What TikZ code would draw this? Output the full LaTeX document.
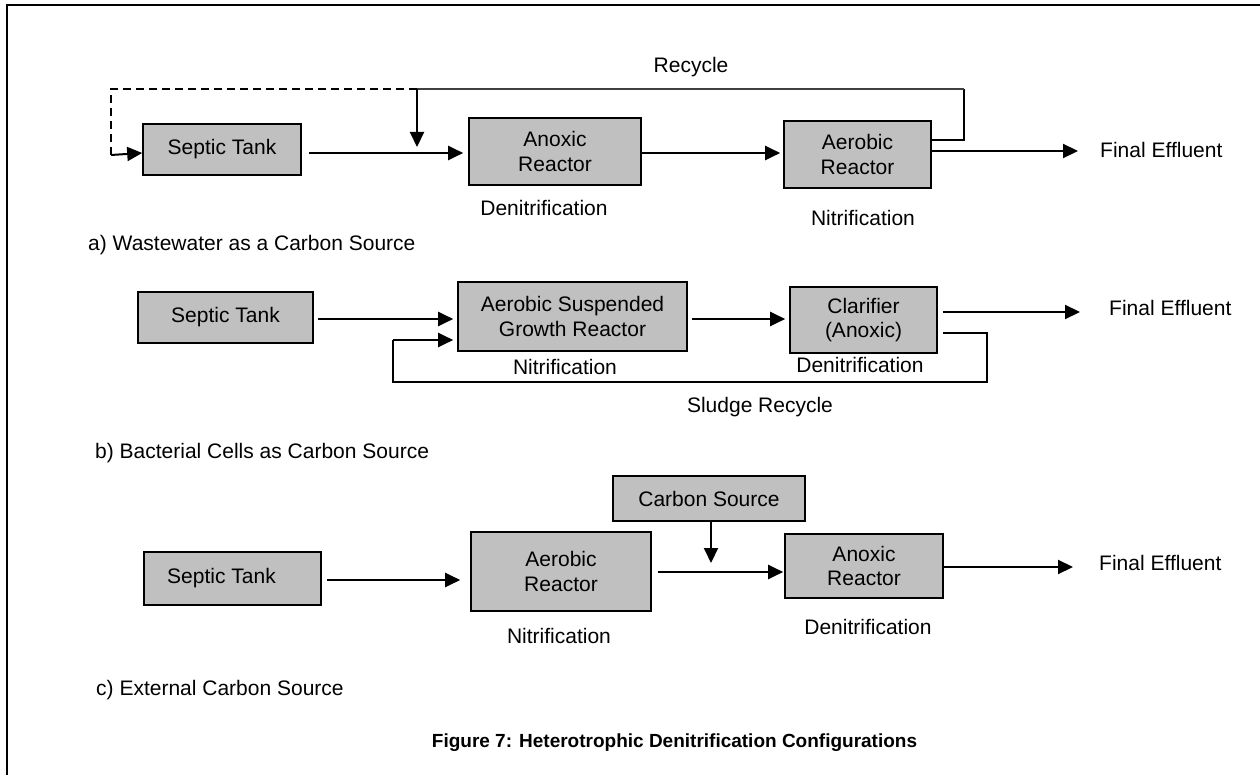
\documentclass[tikz,border=0pt]{standalone}
\usepackage{fontspec}
\setmainfont{Liberation Sans}
\usetikzlibrary{arrows.meta}
\definecolor{boxgray}{HTML}{C0C0C0}
\begin{document}
\begin{tikzpicture}[x=1pt,y=-1pt,
  font=\fontsize{21}{24.5}\selectfont,
  box/.style={draw, line width=1.6pt, fill=boxgray, inner sep=0pt, align=center},
  arr/.style={line width=2pt, -{Triangle[length=15pt,width=14pt]}},
  flow/.style={line width=1.6pt},
  thinflow/.style={line width=1.3pt, black!75},
  dashflow/.style={line width=1.6pt, dash pattern=on 8pt off 5pt},
  lbl/.style={inner sep=0pt},
]
\useasboundingbox (0,0) rectangle (1260,775);
% frame
\draw[line width=2pt] (7,775) -- (7,5) -- (1260,5);

% ---------- a) ----------
\node[box, minimum width=158pt, minimum height=51pt] (sta) at (222,149.5) {Septic Tank};
\node[box, minimum width=172pt, minimum height=67pt] (anoa) at (555,151.5) {Anoxic\\Reactor};
\node[box, minimum width=147pt, minimum height=67pt] (aera) at (857.5,154.5) {Aerobic\\Reactor};
\node[lbl] (dena) at (544,208) {Denitrification};
\node[lbl] (nita) at (863,218) {Nitrification};
\node[lbl, anchor=west] (fea) at (1100,150) {Final Effluent};
\node[lbl] (reca) at (691,67) {Recycle};
\node[lbl, anchor=west] (laba) at (88,245) {a) Wastewater as a Carbon Source};

\coordinate (ra1) at (964,140);
\coordinate (ra2) at (964,89);
\coordinate (ra3) at (417,89);
\coordinate (ra4) at (111,89);
\coordinate (ra5) at (111,155);
\coordinate (ra6) at (417,147);

\draw[arr, shorten <=7pt, shorten >=5pt] (sta.east |- 0,153) -- (anoa.west |- 0,153);
\draw[arr, shorten >=3pt] (anoa.east |- 0,153) -- (aera.west |- 0,153);
\draw[arr, shorten >=22pt] (aera.east |- 0,151) -- (fea.west |- 0,151);
\draw[flow] (aera.east |- ra1) -- (ra1) -- (ra2);
\draw[thinflow] (ra2) -- (ra3);
\draw[dashflow] (ra3) -- (ra4) -- (ra5);
\draw[arr] (ra5) -- (sta.west |- 0,153);
\draw[arr] (ra3) -- (ra6);

% ---------- b) ----------
\node[box, minimum width=175pt, minimum height=51pt] (stb) at (225.5,317.5) {Septic Tank};
\node[box, minimum width=229pt, minimum height=69pt] (asb) at (572.5,316.5) {Aerobic Suspended\\Growth Reactor};
\node[box, minimum width=147pt, minimum height=66pt] (clb) at (863.5,320) {Clarifier\\(Anoxic)};
\node[lbl] (nitb) at (565,367) {Nitrification};
\node[lbl] (denb) at (860,365) {Denitrification};
\node[lbl, anchor=west] (feb) at (1109,308) {Final Effluent};
\node[lbl] (recb) at (760,407) {Sludge Recycle};
\node[lbl, anchor=west] (labb) at (95,453) {b) Bacterial Cells as Carbon Source};

\coordinate (rb1) at (987,333);
\coordinate (rb2) at (987,382);
\coordinate (rb3) at (393,382);
\coordinate (rb4) at (393,340);

\draw[arr, shorten <=4pt, shorten >=4pt] (stb.east |- 0,319) -- (asb.west |- 0,319);
\draw[arr, shorten <=4pt, shorten >=4pt] (asb.east |- 0,319) -- (clb.west |- 0,319);
\draw[arr, shorten <=5pt, shorten >=29pt] (clb.east |- 0,312) -- (feb.west |- 0,312);
\draw[flow, shorten <=5pt] (clb.east |- rb1) -- (rb1) -- (rb2) -- (rb3) -- (rb4);
\draw[arr, shorten >=4pt] (rb4) -- (asb.west |- rb4);

% ---------- c) ----------
\node[box, minimum width=177pt, minimum height=53pt] (stc) at (232.5,578.5) {Septic Tank\hspace{22pt}};
\node[box, minimum width=180pt, minimum height=79pt] (aerc) at (561,571.5) {Aerobic\\Reactor};
\node[box, minimum width=192pt, minimum height=45pt] (carb) at (709,498.5) {Carbon Source};
\node[box, minimum width=158pt, minimum height=64pt] (anoc) at (864,566) {Anoxic\\Reactor};
\node[lbl] (nitc) at (559,636) {Nitrification};
\node[lbl] (denc) at (868,627) {Denitrification};
\node[lbl, anchor=west] (fec) at (1099,563) {Final Effluent};
\node[lbl, anchor=west] (labc) at (96,690) {c) External Carbon Source};

\coordinate (cc1) at (711,563);

\draw[arr, shorten <=5pt, shorten >=10pt] (stc.east |- 0,580) -- (aerc.west |- 0,580);
\draw[arr, shorten <=6pt, shorten >=1pt] (aerc.east |- 0,572) -- (anoc.west |- 0,572);
\draw[arr] (carb.south -| cc1) -- (cc1);
\draw[arr, shorten >=26pt] (anoc.east |- 0,567) -- (fec.west |- 0,567);

% ---------- caption ----------
\node[lbl, font=\bfseries\fontsize{19}{22}\selectfont] (title) at (674.5,743) {Figure 7: Heterotrophic Denitrification Configurations};
\end{tikzpicture}
\end{document}
